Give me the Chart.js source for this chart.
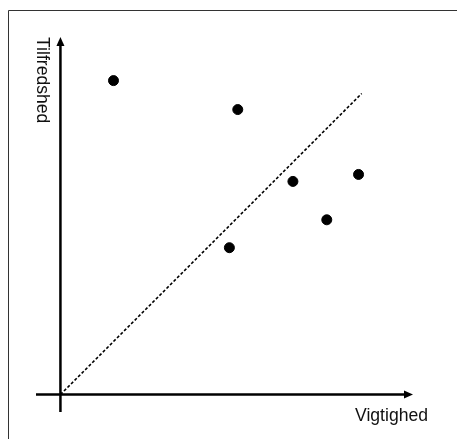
<!DOCTYPE html>
<html>
<head>
<meta charset="utf-8">
<script src="https://cdn.jsdelivr.net/npm/chart.js@4"></script>
<style>
  html, body { margin: 0; padding: 0; background: #fff; overflow: hidden; }
  #wrap { position: relative; width: 457px; height: 439px; }
</style>
</head>
<body>
<div id="wrap"><canvas id="chart" width="457" height="439"></canvas></div>
<script>
// importance (x) and satisfaction (y) for each item
const importance = [1.52, 5.08, 6.66, 8.54, 7.63, 4.84];
const satisfaction = [9.0, 8.17, 6.11, 6.31, 5.01, 4.21];
// dotted reference line, from origin to upper right
const refLineX = [0, 8.63];
const refLineY = [0, 8.63];
const xTitle = 'Vigtighed';
const yTitle = 'Tilfredshed';

const points = importance.map((v, i) => ({ x: v, y: satisfaction[i] }));
const refLine = refLineX.map((v, i) => ({ x: v, y: refLineY[i] }));

const axesPlugin = {
  id: 'axesPlugin',
  beforeDraw(chart) {
    const ctx = chart.ctx;
    ctx.save();
    // outer frame (only top and left edges are inside the picture)
    ctx.strokeStyle = '#333';
    ctx.lineWidth = 1;
    ctx.beginPath();
    ctx.moveTo(8.5, 439);
    ctx.lineTo(8.5, 10.5);
    ctx.lineTo(457, 10.5);
    ctx.stroke();
    ctx.restore();
  },
  afterDatasetsDraw(chart) {
    const ctx = chart.ctx;
    const xs = chart.scales.x, ys = chart.scales.y;
    const x0 = xs.getPixelForValue(0);
    const y0 = ys.getPixelForValue(0);
    const left = chart.chartArea.left, right = chart.chartArea.right;
    const top = chart.chartArea.top, bottom = chart.chartArea.bottom;
    ctx.save();
    ctx.strokeStyle = '#000';
    ctx.fillStyle = '#000';
    ctx.lineWidth = 2.5;
    // x axis
    ctx.beginPath();
    ctx.moveTo(left, y0);
    ctx.lineTo(right - 6, y0);
    ctx.stroke();
    ctx.beginPath();
    ctx.moveTo(right, y0);
    ctx.lineTo(right - 9, y0 - 4);
    ctx.lineTo(right - 9, y0 + 4);
    ctx.closePath();
    ctx.fill();
    // y axis
    ctx.beginPath();
    ctx.moveTo(x0, bottom);
    ctx.lineTo(x0, top + 6);
    ctx.stroke();
    ctx.beginPath();
    ctx.moveTo(x0, top);
    ctx.lineTo(x0 - 4, top + 9);
    ctx.lineTo(x0 + 4, top + 9);
    ctx.closePath();
    ctx.fill();
    // titles
    ctx.font = '17.6px "Liberation Sans", Arial, sans-serif';
    ctx.fillStyle = '#111';
    ctx.textAlign = 'left';
    ctx.textBaseline = 'alphabetic';
    ctx.fillText(xTitle, 355, 421);
    ctx.translate(37, 37);
    ctx.rotate(Math.PI / 2);
    ctx.fillText(yTitle, 0, 0);
    ctx.restore();
  }
};

new Chart(document.getElementById('chart'), {
  type: 'scatter',
  data: {
    datasets: [
      {
        label: 'Punkter',
        data: points,
        backgroundColor: '#000',
        borderColor: '#000',
        pointRadius: 5,
        pointHoverRadius: 5
      },
      {
        label: 'Reference',
        type: 'line',
        data: refLine,
        borderColor: '#000',
        borderWidth: 1.6,
        borderDash: [3, 2],
        pointRadius: 0,
        fill: false
      }
    ]
  },
  options: {
    responsive: false,
    animation: false,
    layout: { padding: { left: 36, right: 44, top: 37, bottom: 27 } },
    plugins: { legend: { display: false }, tooltip: { enabled: false } },
    scales: {
      x: { type: 'linear', min: -0.7, max: 10.1, display: false },
      y: { type: 'linear', min: -0.5, max: 10.25, display: false }
    }
  },
  plugins: [axesPlugin]
});
</script>
</body>
</html>
